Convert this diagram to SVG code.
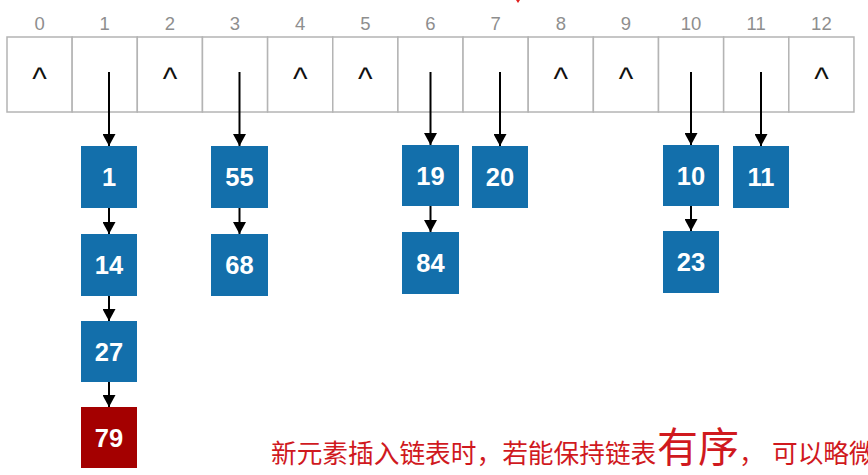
<svg xmlns="http://www.w3.org/2000/svg" width="868" height="475" viewBox="0 0 868 475">
<style>
.idx{font-family:"Liberation Sans",Arial,sans-serif;font-size:18.5px;fill:#8e8e8e;text-anchor:middle}
.cell{fill:#fff;stroke:#b4b4b4;stroke-width:1.5}
.car{font-family:"Liberation Sans",Arial,sans-serif;font-size:31px;fill:#111;text-anchor:middle}
.box{fill:#136fab}
.red{fill:#a40000}
.num{font-family:"Liberation Sans",Arial,sans-serif;font-size:25.5px;font-weight:bold;fill:#fff;text-anchor:middle}
.conn line{stroke:#000;stroke-width:2;marker-end:url(#ah)}
.note{font-family:"Noto Sans CJK SC","Noto Sans",sans-serif;fill:#d0191e}
</style>
<defs>
<marker id="ah" markerUnits="userSpaceOnUse" markerWidth="12" markerHeight="13" viewBox="0 0 12 13" refX="12" refY="6.5" orient="auto">
<path d="M0,0 L12,6.5 L0,13 Z" fill="#000"/>
</marker>
</defs>
<rect width="868" height="475" fill="#fff"/>
<path d="M516,0 L520,0 L518,3 Z" fill="#e0201e"/>
<g id="table">
<rect class="cell" x="7" y="37" width="65.15" height="75"/>
<rect class="cell" x="72.15" y="37" width="65.15" height="75"/>
<rect class="cell" x="137.3" y="37" width="65.15" height="75"/>
<rect class="cell" x="202.45" y="37" width="65.15" height="75"/>
<rect class="cell" x="267.6" y="37" width="65.15" height="75"/>
<rect class="cell" x="332.75" y="37" width="65.15" height="75"/>
<rect class="cell" x="397.9" y="37" width="65.15" height="75"/>
<rect class="cell" x="463.05" y="37" width="65.15" height="75"/>
<rect class="cell" x="528.2" y="37" width="65.15" height="75"/>
<rect class="cell" x="593.35" y="37" width="65.15" height="75"/>
<rect class="cell" x="658.5" y="37" width="65.15" height="75"/>
<rect class="cell" x="723.65" y="37" width="65.15" height="75"/>
<rect class="cell" x="788.8" y="37" width="65.15" height="75"/>
<text class="idx" x="39.6" y="29.5">0</text>
<text class="idx" x="104.7" y="29.5">1</text>
<text class="idx" x="169.9" y="29.5">2</text>
<text class="idx" x="235" y="29.5">3</text>
<text class="idx" x="300.2" y="29.5">4</text>
<text class="idx" x="365.3" y="29.5">5</text>
<text class="idx" x="430.5" y="29.5">6</text>
<text class="idx" x="495.6" y="29.5">7</text>
<text class="idx" x="560.8" y="29.5">8</text>
<text class="idx" x="625.9" y="29.5">9</text>
<text class="idx" x="691.1" y="29.5">10</text>
<text class="idx" x="756.2" y="29.5">11</text>
<text class="idx" x="821.4" y="29.5">12</text>
<text class="car" x="39.6" y="89">^</text>
<text class="car" x="169.9" y="89">^</text>
<text class="car" x="300.2" y="89">^</text>
<text class="car" x="365.3" y="89">^</text>
<text class="car" x="560.8" y="89">^</text>
<text class="car" x="625.9" y="89">^</text>
<text class="car" x="821.4" y="89">^</text>
</g>
<g class="conn">
<line x1="109" y1="72" x2="109" y2="146"/>
<line x1="109" y1="208" x2="109" y2="234"/>
<line x1="109" y1="296" x2="109" y2="321"/>
<line x1="109" y1="382" x2="109" y2="407"/>
<line x1="239.5" y1="72" x2="239.5" y2="146"/>
<line x1="239.5" y1="208" x2="239.5" y2="234"/>
<line x1="430.5" y1="72" x2="430.5" y2="145"/>
<line x1="430.5" y1="206" x2="430.5" y2="232"/>
<line x1="500" y1="72" x2="500" y2="146"/>
<line x1="691" y1="72" x2="691" y2="145"/>
<line x1="691" y1="206" x2="691" y2="231"/>
<line x1="761" y1="72" x2="761" y2="146"/>
</g>
<g id="n1"><rect class="box" x="81" y="146" width="56" height="62"/><text class="num" x="109" y="186">1</text></g>
<g id="n14"><rect class="box" x="81" y="234" width="56" height="62"/><text class="num" x="109" y="274">14</text></g>
<g id="n27"><rect class="box" x="81" y="321" width="56" height="61"/><text class="num" x="109" y="361">27</text></g>
<g id="n79"><rect class="red" x="81" y="407" width="56" height="61"/><text class="num" x="109" y="447">79</text></g>
<g id="n55"><rect class="box" x="211" y="146" width="57" height="62"/><text class="num" x="239.5" y="186">55</text></g>
<g id="n68"><rect class="box" x="211" y="234" width="57" height="62"/><text class="num" x="239.5" y="274">68</text></g>
<g id="n19"><rect class="box" x="402" y="145" width="57" height="61"/><text class="num" x="430.5" y="185">19</text></g>
<g id="n84"><rect class="box" x="402" y="232" width="57" height="62"/><text class="num" x="430.5" y="272">84</text></g>
<g id="n20"><rect class="box" x="472" y="146" width="56" height="62"/><text class="num" x="500" y="186">20</text></g>
<g id="n10"><rect class="box" x="663" y="145" width="56" height="61"/><text class="num" x="691" y="185">10</text></g>
<g id="n23"><rect class="box" x="663" y="231" width="56" height="62"/><text class="num" x="691" y="271">23</text></g>
<g id="n11"><rect class="box" x="733" y="146" width="56" height="62"/><text class="num" x="761" y="186">11</text></g>
<text class="note" y="463"><tspan x="271" font-size="25.7">新元素插入链表时，若能保持链表</tspan><tspan x="657" y="462" font-size="41">有序</tspan><tspan x="739" y="463" font-size="25.7">，</tspan><tspan x="772" font-size="25.7">可以略微</tspan></text>
</svg>
